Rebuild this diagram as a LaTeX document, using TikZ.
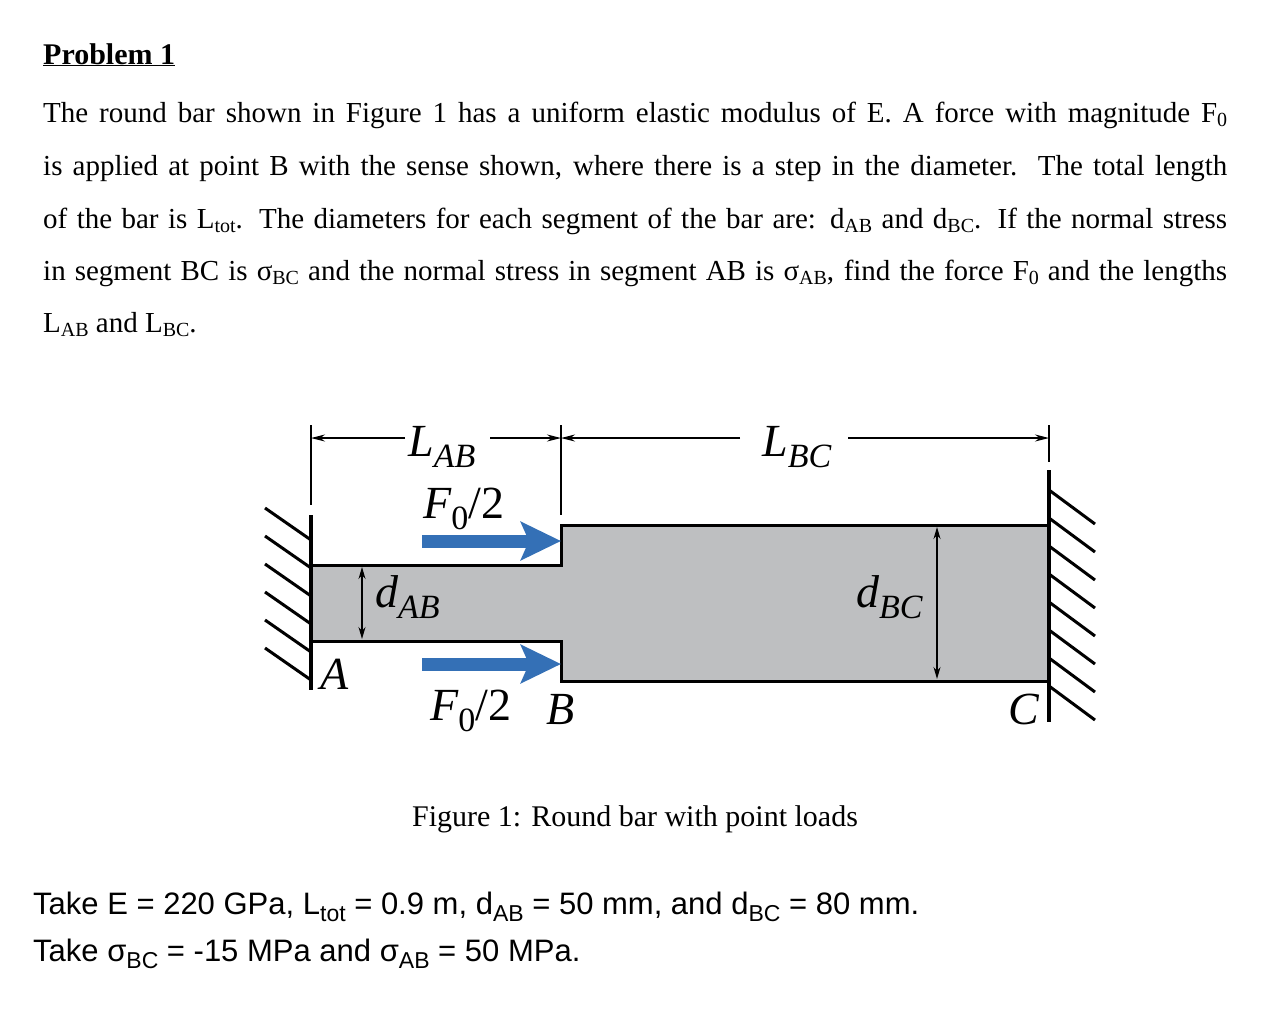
\documentclass[tikz,border=0pt]{standalone}
\usepackage{fontspec}
\setmainfont{Liberation Serif}
\newfontfamily\sansf{Liberation Sans}
\usetikzlibrary{arrows.meta}
\newcommand{\lowsub}[1]{\raisebox{-0.15em}{\fontsize{20}{20}\selectfont #1}}
\newcommand{\labsub}[1]{\raisebox{-0.25em}{\fontsize{34}{34}\selectfont #1}}
\newcommand{\ssub}[1]{\raisebox{-0.25em}{\fontsize{23}{23}\selectfont #1}}
\definecolor{bargray}{RGB}{190,191,193}
\definecolor{forceblue}{RGB}{52,112,182}
\tikzset{
  para/.style={anchor=base west,inner sep=0pt,font=\fontsize{29}{29}\selectfont},
  lab/.style={anchor=base west,inner sep=0pt,font=\fontsize{46}{46}\selectfont\itshape},
  dim/.style={line width=1.3pt,-{Stealth[length=14pt,width=7pt]}},
  dimd/.style={line width=1.3pt,{Stealth[length=12pt,width=7pt]}-{Stealth[length=12pt,width=7pt]}},
  ext/.style={line width=1.3pt},
  hatch/.style={line width=3pt},
  force/.style={line width=13pt,forceblue,-{Stealth[length=40pt,width=38pt,inset=8pt]}},
  sans/.style={anchor=base west,inner sep=0pt,font=\sansf\fontsize{31}{31}\selectfont}
}
\begin{document}
\begin{tikzpicture}[x=1pt,y=-1pt]
\useasboundingbox (0,0) rectangle (1284,1034);
\node[para,font=\fontsize{30}{30}\selectfont\bfseries] (title) at (43,64) {\underline{Problem 1}};
\node[para] (l1) at (43,122) {\makebox[1184pt][s]{The round bar shown in Figure 1 has a uniform elastic modulus of E. A force with magnitude F\lowsub{0}}};
\node[para] (l2) at (43,175) {\makebox[1184pt][s]{is applied at point B with the sense shown, where there is a step in the diameter.\ \ The total length}};
\node[para] (l3) at (43,228) {\makebox[1184pt][s]{of the bar is L\lowsub{tot}. The diameters for each segment of the bar are: d\lowsub{AB} and d\lowsub{BC}. If the normal stress}};
\node[para] (l4) at (43,280) {\makebox[1184pt][s]{in segment BC is σ\lowsub{BC} and the normal stress in segment AB is σ\lowsub{AB}, find the force F\lowsub{0} and the lengths}};
\node[para] (l5) at (43,332) {L\lowsub{AB} and L\lowsub{BC}.};
% bar
\fill[bargray] (311,565) rectangle (561,641);
\fill[bargray] (561,525) rectangle (1049,681);
\draw[line width=3pt] (311,565) -- (561,565) -- (561,525) -- (1049,525);
\draw[line width=3pt] (311,641) -- (561,641) -- (561,681) -- (1049,681);
% walls
\draw[line width=4pt] (311,515) -- (311,690);
\draw[line width=4pt] (1049,470) -- (1049,722);
\foreach \y in {540,568,596,624,652,680} \draw[hatch] (311,\y) -- (265,\y-32);
\foreach \y in {490,518,546,574,602,630,658,686} \draw[hatch] (1049,\y) -- (1095,\y+34);
% extension lines
\draw[ext] (311,425) -- (311,505);
\draw[ext] (561,425) -- (561,515);
\draw[ext] (1049,425) -- (1049,462);
% dims
\coordinate (a0) at (311,438); \coordinate (b0) at (561,438); \coordinate (c0) at (1049,438);
\coordinate (a1) at (405,438); \coordinate (a2) at (490,438);
\coordinate (b1) at (740,438); \coordinate (b2) at (848,438);
\draw[dim] (a1) -- (a0);
\draw[dim] (a2) -- (b0);
\draw[dim] (b1) -- (b0);
\draw[dim] (b2) -- (c0);
\coordinate (dab1) at (362,567); \coordinate (dab2) at (362,639);
\draw[dimd] (dab1) -- (dab2);
\coordinate (dbc1) at (937,527); \coordinate (dbc2) at (937,679);
\draw[dimd] (dbc1) -- (dbc2);
% forces
\coordinate (f1s) at (422,541); \coordinate (f1e) at (561,541);
\coordinate (f2s) at (422,664); \coordinate (f2e) at (561,664);
\draw[force] (f1s) -- (f1e);
\draw[force] (f2s) -- (f2e);
% labels
\node[lab] (LAB) at (408,456) {L\labsub{AB}};
\node[lab] (LBC) at (762,456) {L\labsub{BC}};
\node[lab] (F1) at (423,518) {F\labsub{\upshape 0}\upshape/2};
\node[lab] (F2) at (430,720) {F\labsub{\upshape 0}\upshape/2};
\node[lab] (dAB) at (375,607) {d\labsub{AB}};
\node[lab] (dBC) at (856,607) {d\labsub{BC}};
\node[lab] (A) at (320,689) {A};
\node[lab] (B) at (546,724) {B};
\node[lab] (C) at (1008,724) {C};
\node[para,anchor=base,font=\fontsize{30}{30}\selectfont] (cap) at (635,826) {Figure 1: Round bar with point loads};
\node[sans] (t1) at (33,914) {Take E = 220 GPa, L\ssub{tot} = 0.9 m, d\ssub{AB} = 50 mm, and d\ssub{BC} = 80 mm.};
\node[sans] (t2) at (33,961) {Take σ\ssub{BC} = -15 MPa and σ\ssub{AB} = 50 MPa.};
\end{tikzpicture}
\end{document}
